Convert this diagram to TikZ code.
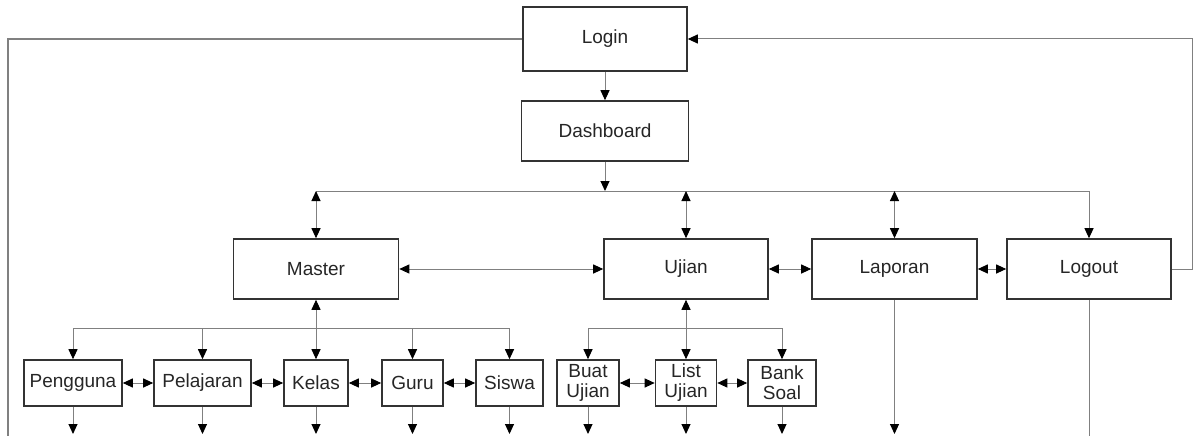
\documentclass[tikz,border=0pt]{standalone}
\usepackage{fontspec}
\setmainfont{Liberation Sans}
\usetikzlibrary{arrows.meta}
\begin{document}
\begin{tikzpicture}[x=1pt,y=-1pt,
  box/.style={draw=black!80, line width=1.6pt, fill=white, inner sep=0pt,
    font=\fontsize{19}{20}\selectfont, text=black!85, align=center},
  link/.style={draw=black!50, line width=1pt},
  tip/.style={-{Triangle[length=10pt,width=9pt,color=black]}},
  both/.style={{Triangle[length=10pt,width=9pt,color=black]}-{Triangle[length=10pt,width=9pt,color=black]}}
]
\useasboundingbox (0,0) rectangle (1196,436);

% top level
\node[box, minimum width=164pt, minimum height=64pt] (login) at (605,39) {Login};
\node[box, minimum width=167pt, minimum height=60pt] (dash) at (605,131) {Dashboard};

% main menu
\node[box, minimum width=165pt, minimum height=60pt] (master) at (316,269) {Master};
\node[box, minimum width=164pt, minimum height=60pt] (ujian) at (686,269) {Ujian};
\node[box, minimum width=165pt, minimum height=60pt] (laporan) at (894.5,269) {Laporan};
\node[box, minimum width=164pt, minimum height=60pt] (logout) at (1089,269) {Logout};

% sub menus
\node[box, minimum width=98pt, minimum height=46pt] (pengguna) at (73,383) {Pengguna};
\node[box, minimum width=97pt, minimum height=46pt] (pelajaran) at (202.5,383) {Pelajaran};
\node[box, minimum width=64pt, minimum height=46pt] (kelas) at (316,383) {Kelas};
\node[box, minimum width=61pt, minimum height=46pt] (guru) at (412.5,383) {Guru};
\node[box, minimum width=67pt, minimum height=46pt] (siswa) at (509.5,383) {Siswa};
\node[box, minimum width=62pt, minimum height=46pt] (buat) at (588,383) {Buat\\Ujian};
\node[box, minimum width=61pt, minimum height=46pt] (list) at (686,383) {List\\Ujian};
\node[box, minimum width=68pt, minimum height=46pt] (bank) at (782,383) {Bank\\Soal};

% helper coordinates
\coordinate (busA) at (0,191);
\coordinate (busB) at (0,328);
\coordinate (floor) at (0,434);
\coordinate (edge) at (0,436);
\coordinate (leftx) at (8,0);
\coordinate (rightx) at (1192,0);

% login / logout loop
\draw[link, line width=1.3pt] (login.west) -- (login.west -| leftx) -- (leftx |- edge);
\draw[link, tip] (logout.east) -- (logout.east -| rightx) -- (rightx |- login.east) -- (login.east);
\draw[link, tip] (login.south) -- (dash.north);
\draw[link, tip] (dash.south) -- (dash.south |- busA);

% dashboard bus
\draw[link] (master.north |- busA) -- (logout.north |- busA);
\draw[link, both] (master.north |- busA) -- (master.north);
\draw[link, both] (ujian.north |- busA) -- (ujian.north);
\draw[link, both] (laporan.north |- busA) -- (laporan.north);
\draw[link, tip] (logout.north |- busA) -- (logout.north);

% between main menus
\draw[link, both] (master.east) -- (ujian.west);
\draw[link, both] (ujian.east) -- (laporan.west);
\draw[link, both] (laporan.east) -- (logout.west);

% master bus
\draw[link] (pengguna.north |- busB) -- (siswa.north |- busB);
\draw[link, both] (master.south) -- (kelas.north);
\draw[link, tip] (pengguna.north |- busB) -- (pengguna.north);
\draw[link, tip] (pelajaran.north |- busB) -- (pelajaran.north);
\draw[link, tip] (guru.north |- busB) -- (guru.north);
\draw[link, tip] (siswa.north |- busB) -- (siswa.north);

% ujian bus
\draw[link] (buat.north |- busB) -- (bank.north |- busB);
\draw[link, both] (ujian.south) -- (list.north);
\draw[link, tip] (buat.north |- busB) -- (buat.north);
\draw[link, tip] (bank.north |- busB) -- (bank.north);

% between sub menus
\draw[link, both] (pengguna.east) -- (pelajaran.west);
\draw[link, both] (pelajaran.east) -- (kelas.west);
\draw[link, both] (kelas.east) -- (guru.west);
\draw[link, both] (guru.east) -- (siswa.west);
\draw[link, both] (buat.east) -- (list.west);
\draw[link, both] (list.east) -- (bank.west);

% continuing downwards
\foreach \n in {pengguna,pelajaran,kelas,guru,siswa,buat,list,bank,laporan}
  \draw[link, tip] (\n.south) -- (\n.south |- floor);
\draw[link] (logout.south) -- (logout.south |- edge);
\end{tikzpicture}
\end{document}
